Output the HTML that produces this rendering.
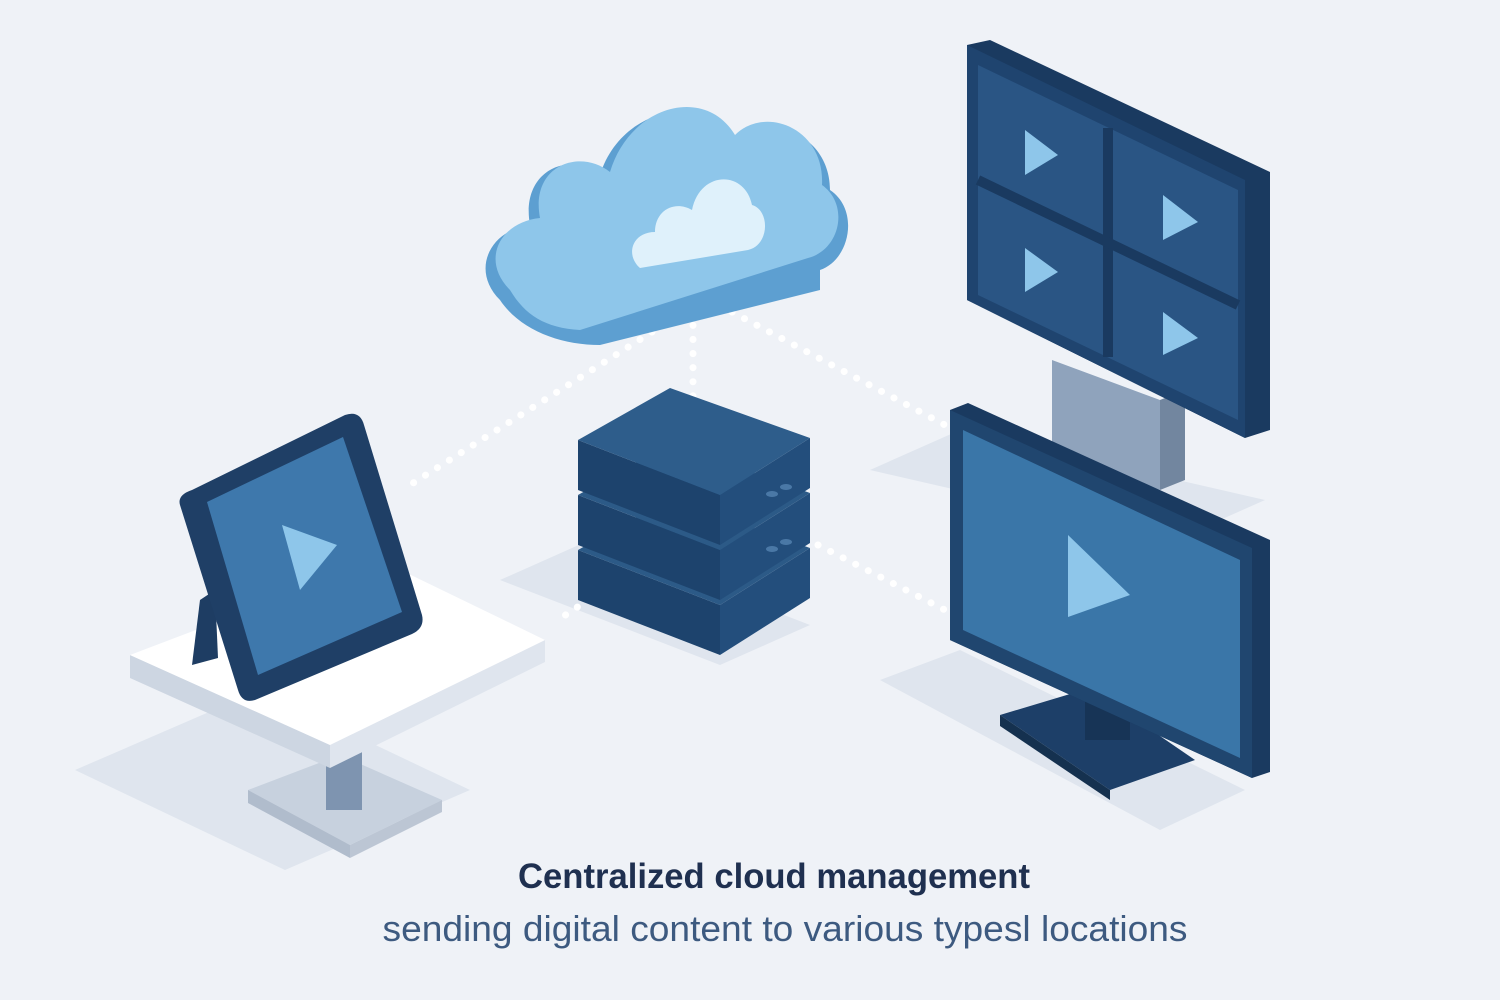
<!DOCTYPE html>
<html><head><meta charset="utf-8"><style>
html,body{margin:0;padding:0;background:#eff2f7;}
svg{display:block}
</style></head><body>
<svg width="1500" height="1000" viewBox="0 0 1500 1000" xmlns="http://www.w3.org/2000/svg">
<rect width="1500" height="1000" fill="#eff2f7"/>
<!-- shadows -->
<polygon points="75,770 260,690 470,790 285,870" fill="#dfe5ee"/>
<polygon points="500,580 590,540 810,625 720,665" fill="#dfe5ee"/>
<polygon points="870,470 960,430 1265,500 1175,540" fill="#dfe5ee"/>
<polygon points="880,680 960,650 1245,790 1160,830" fill="#dfe5ee"/>

<!-- dotted connectors -->
<g stroke="#ffffff" stroke-width="7" stroke-linecap="round" stroke-dasharray="0.1 14" fill="none">
<line x1="693" y1="283" x2="693" y2="432"/>
<line x1="652" y1="332" x2="410" y2="485"/>
<line x1="732" y1="312" x2="945" y2="425"/>
<line x1="818" y1="545" x2="945" y2="610"/>
<line x1="636" y1="568" x2="555" y2="622"/>
</g>

<!-- cloud -->
<g>
<path d="M500,300 C470,270 490,230 530,225 C520,170 570,150 600,175 C620,110 700,90 730,140 C760,110 830,130 830,190 C860,210 850,260 820,270 L820,290 L600,345 C560,345 520,330 500,300Z" fill="#5d9fd1"/>
<path d="M510,290 C480,260 500,222 540,218 C530,165 580,148 610,172 C630,105 705,85 735,135 C765,105 825,128 822,185 C850,205 840,250 808,258 L580,330 C545,328 525,315 510,290Z" fill="#8ec6ea"/>
<path d="M640,268 C625,255 632,232 655,232 C655,210 675,200 692,210 C700,170 745,170 752,205 C770,210 770,245 748,250 Z" fill="#dff1fb"/>
</g>

<!-- server -->
<g>
<g transform="translate(0,110)">
<polygon points="578,440 720,495 720,545 578,490" fill="#1d436d"/>
<polygon points="720,495 810,438 810,488 720,545" fill="#234e7c"/>
<polygon points="578,440 670,388 810,438 720,495" fill="#2c5a87"/>
</g>
<g transform="translate(0,55)">
<polygon points="578,440 720,495 720,545 578,490" fill="#1d436d"/>
<polygon points="720,495 810,438 810,488 720,545" fill="#234e7c"/>
<polygon points="578,440 670,388 810,438 720,495" fill="#2c5a87"/>
</g>
<polygon points="578,440 720,495 720,545 578,490" fill="#1d436d"/>
<polygon points="720,495 810,438 810,488 720,545" fill="#234e7c"/>
<polygon points="578,440 670,388 810,438 720,495" fill="#2e5d8b"/>
<g fill="#4a78a6"><ellipse cx="772" cy="494" rx="6" ry="3"/><ellipse cx="786" cy="487" rx="6" ry="3"/><ellipse cx="772" cy="549" rx="6" ry="3"/><ellipse cx="786" cy="542" rx="6" ry="3"/></g>
</g>

<!-- table -->
<g>
<polygon points="248,790 340,755 442,800 350,845" fill="#c7d1de"/>
<polygon points="248,790 350,845 350,858 248,803" fill="#b0bccc"/>
<polygon points="350,845 442,800 442,812 350,858" fill="#bcc6d4"/>
<rect x="326" y="745" width="36" height="65" fill="#7e94b0"/>
<polygon points="130,655 330,745 330,768 130,678" fill="#cdd6e2"/>
<polygon points="330,745 545,640 545,662 330,768" fill="#dfe5ee"/>
<polygon points="130,655 380,560 545,640 330,745" fill="#ffffff"/>
</g>

<!-- tablet -->
<g>
<polygon points="200,600 215,590 218,658 192,665" fill="#1e3d63"/>
<path d="M192,490 L345,415 Q360,410 364,425 L422,615 Q425,628 412,634 L255,700 Q242,704 238,690 L180,505 Q177,495 192,490Z" fill="#1f3f66"/>
<polygon points="207,502 343,437 402,612 258,675" fill="#3e78ac"/>
<polygon points="282,525 337,545 300,590" fill="#8ec6ea"/>
</g>

<!-- video wall -->
<g>
<polygon points="1052,360 1160,400 1160,490 1052,450" fill="#8fa3bc"/>
<polygon points="1160,400 1185,390 1185,480 1160,490" fill="#72869f"/>
<polygon points="967,45 990,40 1270,172 1270,430 1245,438 967,300" fill="#1a3a60"/>
<polygon points="967,45 1245,180 1245,438 967,300" fill="#1f446f"/>
<polygon points="978,65 1238,190 1238,420 978,295" fill="#2a5584"/>
<g stroke="#1a3a60" stroke-width="10"><line x1="1108" y1="128" x2="1108" y2="357"/><line x1="978" y1="180" x2="1238" y2="305"/></g>
<g fill="#8ec6ea">
<polygon points="1025,130 1058,155 1025,175"/>
<polygon points="1163,195 1198,222 1163,240"/>
<polygon points="1025,248 1058,272 1025,292"/>
<polygon points="1163,312 1198,338 1163,355"/>
</g>
</g>

<!-- monitor -->
<g>
<polygon points="1000,715 1090,688 1195,760 1110,790" fill="#1d3f68"/>
<polygon points="1000,715 1110,790 1110,800 1000,726" fill="#15314f"/>
<rect x="1085" y="680" width="45" height="60" fill="#173456"/>
<polygon points="950,410 968,403 1270,540 1270,772 1252,778 950,640" fill="#1a3a60"/>
<polygon points="950,410 1252,548 1252,778 950,640" fill="#20466f"/>
<polygon points="963,430 1240,560 1240,758 963,630" fill="#3a76a8"/>
<polygon points="1068,535 1130,595 1068,617" fill="#8ec6ea"/>
</g>

<text x="774" y="888" text-anchor="middle" font-family="Liberation Sans, sans-serif" font-size="35" font-weight="bold" fill="#1f3050" textLength="512" lengthAdjust="spacingAndGlyphs">Centralized cloud management</text>
<text x="785" y="941" text-anchor="middle" font-family="Liberation Sans, sans-serif" font-size="36" fill="#3d5a80" textLength="805" lengthAdjust="spacingAndGlyphs">sending digital content to various typesl locations</text>
</svg>
</body></html>
